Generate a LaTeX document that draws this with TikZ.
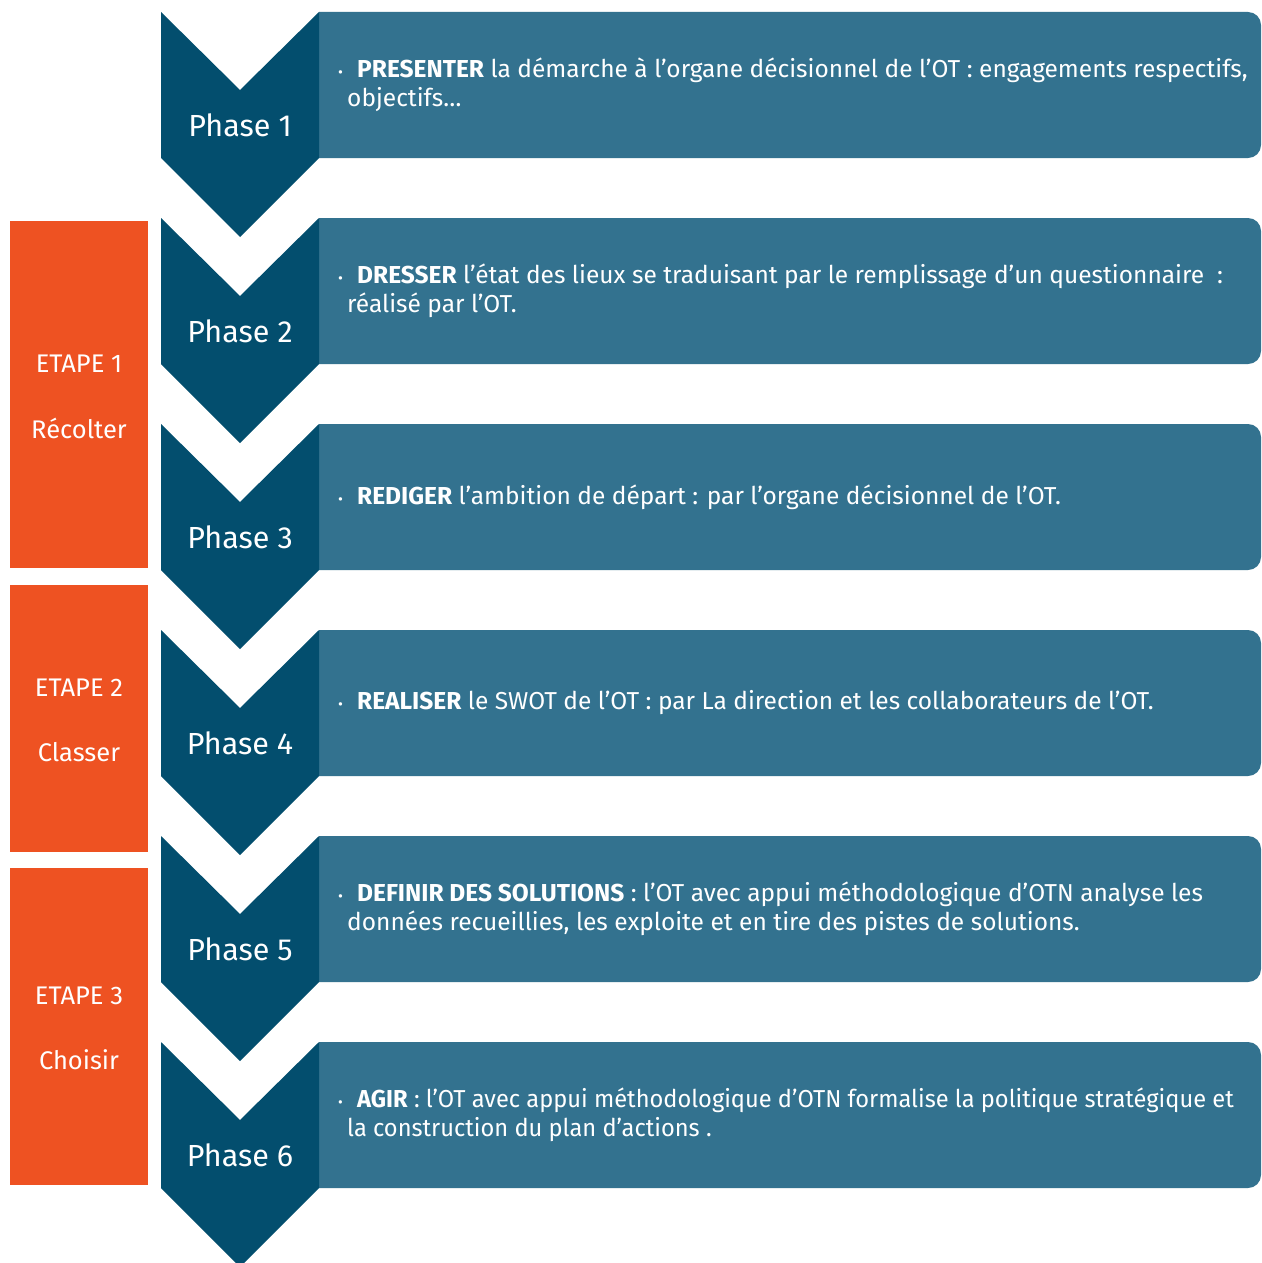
\documentclass[tikz,border=0pt]{standalone}
\usepackage{fontspec}
\setmainfont{Fira Sans}
\definecolor{chev}{HTML}{034E6E}
\definecolor{boxblue}{HTML}{33728F}
\definecolor{etape}{HTML}{EE5222}
\tikzset{
  chevron/.style={fill=chev},
  panel/.style={fill=boxblue},
  phaselabel/.style={text=white, font=\fontsize{30.5}{36}\selectfont, inner sep=0pt},
  bodytext/.style={text=white, font=\fontsize{24.5}{29}\selectfont, align=left, anchor=west, inner sep=0pt},
  etapebox/.style={fill=etape},
  etapelabel/.style={text=white, font=\fontsize{25.5}{30}\selectfont, inner sep=0pt}
}
\newcommand{\bul}{\makebox[19pt][l]{\fontsize{15}{15}\selectfont\textbullet}}
\begin{document}
\begin{tikzpicture}[x=1pt,y=-1pt]
\useasboundingbox (0,0) rectangle (1261,1263);
\fill[white] (0,0) rectangle (1261,1263);
% etape boxes
\fill[etapebox] (10,221) rectangle (148,568);
\fill[etapebox] (10,585) rectangle (148,852);
\fill[etapebox] (10,868) rectangle (148,1185);
\node[etapelabel] (e1a) at (79,364) {ETAPE 1};
\node[etapelabel] (e1b) at (79,428) {Récolter};
\node[etapelabel] (e2a) at (79,688) {ETAPE 2};
\node[etapelabel] (e2b) at (79,752) {Classer};
\node[etapelabel] (e3a) at (79,996) {ETAPE 3};
\node[etapelabel] (e3b) at (79,1060) {Choisir};
% phases
\foreach \i/\t in {1/12,2/218,3/424,4/630,5/836,6/1042}{
  \begin{scope}
    \clip (319,\t) rectangle (1261,\t+146);
    \fill[panel, rounded corners=13pt] (290,\t) rectangle (1261,\t+146);
  \end{scope}
  \fill[chevron] (161,\t) -- (240,\t+78) -- (319,\t) -- (319,\t+146) -- (240,\t+225) -- (161,\t+146) -- cycle;
  \node[phaselabel] (p\i) at (240,\t+113) {Phase \i};
}
\node[bodytext] (t1) at (338,85) {\bul\textbf{PRESENTER} la démarche à l’organe décisionnel de l’OT : engagements respectifs,\\\hspace*{9pt}objectifs…};
\node[bodytext] (t2) at (338,291) {\bul\textbf{DRESSER} l’état des lieux se traduisant par le remplissage d’un questionnaire~ :\\\hspace*{9pt}réalisé par l’OT.};
\node[bodytext] (t3) at (338,497) {\bul\textbf{REDIGER} l’ambition de départ : par l’organe décisionnel de l’OT.};
\node[bodytext] (t4) at (338,703) {\bul\textbf{REALISER} le SWOT de l’OT : par La direction et les collaborateurs de l’OT.};
\node[bodytext] (t5) at (338,909) {\bul\textbf{DEFINIR DES SOLUTIONS} : l’OT avec appui méthodologique d’OTN analyse les\\\hspace*{9pt}données recueillies, les exploite et en tire des pistes de solutions.};
\node[bodytext, font=\fontsize{24.5}{29}\selectfont\addfontfeatures{FakeStretch=0.965}] (t6) at (338,1115) {\bul\textbf{AGIR} : l’OT avec appui méthodologique d’OTN formalise la politique stratégique et\\\hspace*{9pt}la construction du plan d’actions .};
\end{tikzpicture}
\end{document}
